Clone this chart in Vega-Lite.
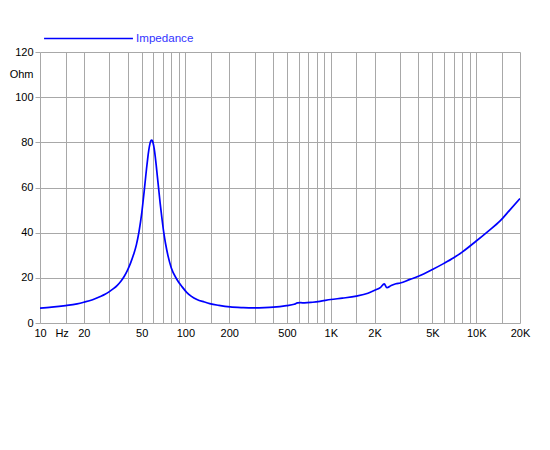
{
  "$schema": "https://vega.github.io/schema/vega-lite/v6.json",
  "autosize": "none",
  "padding": {"left": 40, "top": 52, "right": 30, "bottom": 127},
  "width": 480,
  "height": 271,
  "background": "white",
  "config": {
    "view": {"stroke": null},
    "font": "Liberation Sans"
  },
  "data": {"values": [
    {"f": 10, "z": 6.6}, {"f": 12, "z": 7.0}, {"f": 15, "z": 7.7}, {"f": 18, "z": 8.5},
    {"f": 20, "z": 9.2}, {"f": 23, "z": 10.3}, {"f": 26, "z": 11.7}, {"f": 28, "z": 12.7},
    {"f": 30, "z": 13.9}, {"f": 32, "z": 15.2}, {"f": 34, "z": 16.7}, {"f": 36, "z": 18.5},
    {"f": 38, "z": 20.7}, {"f": 40, "z": 23.4}, {"f": 42, "z": 26.6}, {"f": 44, "z": 30.3},
    {"f": 46, "z": 34.6}, {"f": 48, "z": 40.6}, {"f": 50, "z": 48.3}, {"f": 52, "z": 58.1},
    {"f": 53, "z": 63.2}, {"f": 54, "z": 68.2}, {"f": 55, "z": 72.7}, {"f": 56, "z": 76.5},
    {"f": 57, "z": 79.3}, {"f": 58, "z": 80.8}, {"f": 58.6, "z": 81.0}, {"f": 59.3, "z": 80.6},
    {"f": 60, "z": 79.6}, {"f": 61, "z": 77.2}, {"f": 62, "z": 73.8}, {"f": 63, "z": 69.8},
    {"f": 64, "z": 65.5}, {"f": 65.4, "z": 59.7}, {"f": 67, "z": 53.2}, {"f": 69, "z": 46.2},
    {"f": 71, "z": 40.0}, {"f": 73, "z": 35.2}, {"f": 76, "z": 29.6}, {"f": 80, "z": 24.4},
    {"f": 87, "z": 19.5}, {"f": 95, "z": 16.0}, {"f": 102, "z": 13.6}, {"f": 110, "z": 11.8},
    {"f": 120, "z": 10.4}, {"f": 135, "z": 9.3}, {"f": 147, "z": 8.6}, {"f": 170, "z": 7.8},
    {"f": 203, "z": 7.1}, {"f": 250, "z": 6.8}, {"f": 293, "z": 6.7}, {"f": 350, "z": 6.8},
    {"f": 402, "z": 7.0}, {"f": 496, "z": 7.7}, {"f": 560, "z": 8.3}, {"f": 590, "z": 8.9},
    {"f": 620, "z": 9.0}, {"f": 660, "z": 8.9}, {"f": 750, "z": 9.2}, {"f": 841, "z": 9.6},
    {"f": 1000, "z": 10.4}, {"f": 1200, "z": 11.0}, {"f": 1500, "z": 11.9}, {"f": 1800, "z": 13.2},
    {"f": 2000, "z": 14.5}, {"f": 2200, "z": 15.8}, {"f": 2330, "z": 17.3}, {"f": 2430, "z": 15.6},
    {"f": 2600, "z": 16.6}, {"f": 2800, "z": 17.4}, {"f": 3000, "z": 17.7}, {"f": 3500, "z": 19.3},
    {"f": 4000, "z": 20.7}, {"f": 5000, "z": 23.7}, {"f": 6000, "z": 26.4}, {"f": 7000, "z": 28.9},
    {"f": 8000, "z": 31.4}, {"f": 10000, "z": 36.3}, {"f": 12000, "z": 40.5}, {"f": 14600, "z": 45.2},
    {"f": 17000, "z": 50}, {"f": 20000, "z": 55.1}
  ]},
  "mark": {"type": "line", "interpolate": "monotone", "strokeWidth": 1.7, "clip": true},
  "encoding": {
    "x": {
      "field": "f", "type": "quantitative",
      "scale": {"type": "log", "domain": [10, 20000], "nice": false},
      "axis": {
        "title": null,
        "values": [10, 15, 20, 30, 40, 50, 60, 70, 80, 90, 100, 150, 200, 300, 400, 500, 600, 700, 800, 900, 1000, 1500, 2000, 3000, 4000, 5000, 6000, 7000, 8000, 9000, 10000, 15000, 20000],
        "labelExpr": "datum.value == 15 ? 'Hz' : datum.value == 1000 ? '1K' : datum.value == 2000 ? '2K' : datum.value == 5000 ? '5K' : datum.value == 10000 ? '10K' : datum.value == 20000 ? '20K' : indexof([10,20,50,100,200,500], datum.value) >= 0 ? datum.label : ''",
        "labelFlush": false,
        "labelOverlap": false,
        "labelFontSize": 11,
        "labelColor": "#000000",
        "labelPadding": 4,
        "labelOffset": {"condition": {"test": "datum.value == 15", "value": -4}, "value": 0},
        "ticks": false,
        "domain": false,
        "grid": true,
        "gridColor": "#a8a8a8",
        "gridWidth": 1
      }
    },
    "y": {
      "field": "z", "type": "quantitative",
      "scale": {"domain": [0, 120], "nice": false},
      "axis": {
        "title": null,
        "values": [0, 20, 40, 60, 80, 100, 110, 120],
        "labelExpr": "datum.value == 110 ? 'Ohm' : datum.label",
        "labelFontSize": 11,
        "labelColor": "#000000",
        "labelPadding": 2,
        "tickSize": 5,
        "tickColor": "#a8a8a8",
        "tickOpacity": {"condition": {"test": "datum.value == 110", "value": 0}, "value": 1},
        "gridOpacity": {"condition": {"test": "datum.value == 110", "value": 0}, "value": 1},
        "domain": false,
        "grid": true,
        "gridColor": "#a8a8a8",
        "gridWidth": 1
      }
    },
    "color": {
      "datum": "Impedance",
      "type": "nominal",
      "scale": {"range": ["#0000ff"]},
      "legend": {
        "title": null,
        "orient": "top",
        "offset": 7,
        "padding": 0,
        "symbolType": "stroke",
        "symbolSize": 7900,
        "symbolStrokeWidth": 1.3,
        "symbolOffset": 3,
        "labelFontSize": 11.6,
        "labelColor": "#3333ff",
        "labelOffset": 2
      }
    }
  }
}
